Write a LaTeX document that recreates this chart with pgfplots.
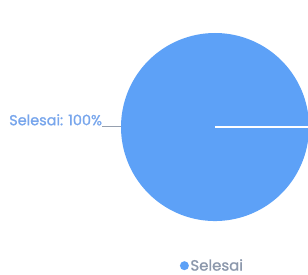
\documentclass[border=0pt]{standalone}
\usepackage{pgfplots}
\pgfplotsset{compat=1.18}
\usepackage{pgfplotstable}
\usepackage{fontspec}
\setmainfont{Poppins}
\newfontfamily\semib[FakeBold=1.2]{Poppins}
\definecolor{slice}{RGB}{93,161,247}
\definecolor{lbl}{RGB}{120,166,236}
\definecolor{legtxt}{RGB}{140,152,172}
\definecolor{leader}{RGB}{150,160,175}
\pgfplotstableread{
label value
Selesai 100
}\piedata
\pgfplotstablegetelem{0}{value}\of\piedata
\let\sliceval\pgfplotsretval
\begin{document}
\begin{tikzpicture}
\begin{axis}[
  scale only axis, width=308bp, height=275bp,
  xmin=-2.287, xmax=0.989, ymin=-1.574, ymax=1.351,
  hide axis, clip=true,
  legend style={draw=none, fill=none, at={(axis cs:-0.03,-1.475)}, anchor=center,
    font=\semib\fontsize{15}{17}\selectfont\color{legtxt}, legend cell align=left,
    inner sep=0pt, nodes={inner sep=1.5bp}},
  legend image code/.code={\fill[slice] (0.0cm,0cm) circle (4.5bp);},
]
\addplot[fill=slice, draw=none, domain=0:{3.6*\sliceval}, samples=241, smooth]
  ({cos(x)},{sin(x)}) -- (axis cs:0,0) -- cycle;
\addlegendentry{Selesai}
\addplot[white, line width=1.2pt, forget plot] coordinates {(0,0) (1,0)};
\addplot[leader, line width=0.6pt, forget plot] coordinates {(-1,0.005) (-1.2,0.005)};
\node[anchor=south east, inner sep=0pt, text=lbl, font=\semib\fontsize{14.5}{16}\selectfont]
  at (axis cs:-1.2,0.015) {Selesai: 100\%};
\end{axis}
\path (current axis.south west) rectangle (current axis.north east);
\end{tikzpicture}
\end{document}
